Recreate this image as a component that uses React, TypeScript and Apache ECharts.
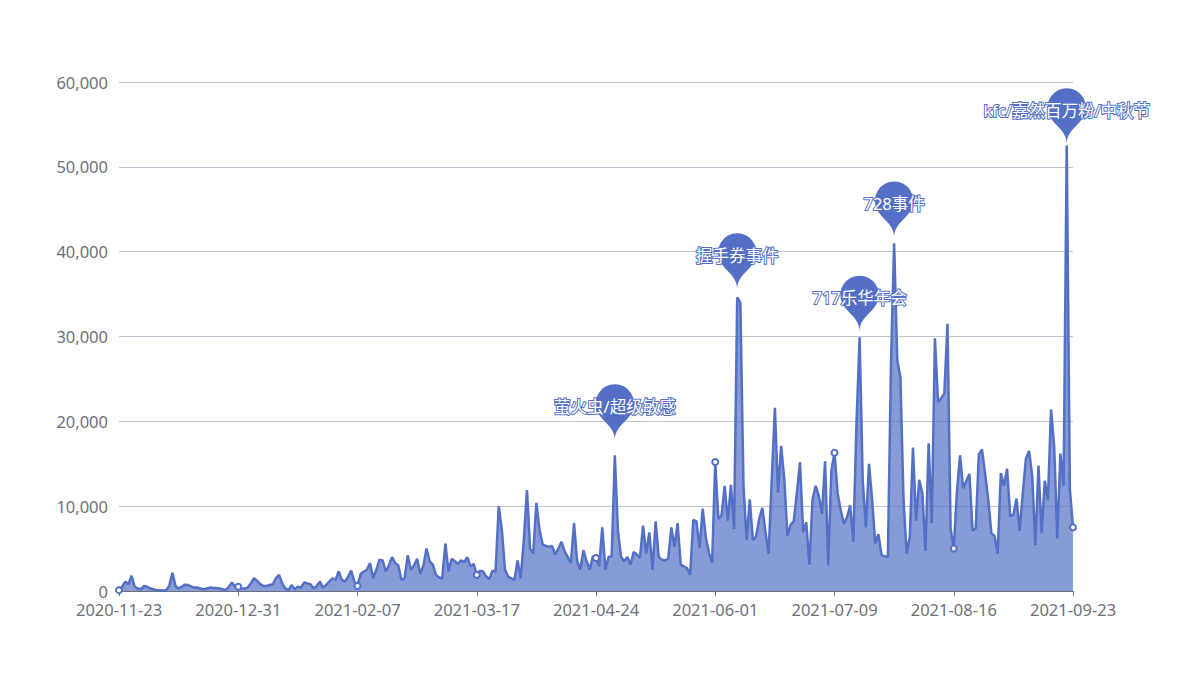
import React, { useEffect, useRef } from 'react';
import * as echarts from 'echarts';

// First day of the daily series (category axis runs one day per value)
const START_DATE = '2020-11-23';

// Daily values (2020-11-23 .. 2021-09-23)
const values: number[] = [
  100, 500, 1100, 800, 1800, 500, 300, 200, 600, 500,
  300, 200, 100, 80, 50, 100, 600, 2150, 600, 300,
  500, 750, 700, 550, 400, 400, 300, 200, 300, 400,
  350, 350, 300, 200, 100, 500, 1000, 500, 500, 300,
  300, 400, 900, 1500, 1200, 800, 600, 600, 700, 800,
  1500, 1900, 900, 300, 100, 700, 200, 500, 400, 1000,
  900, 800, 300, 600, 1100, 400, 700, 1100, 1500, 1300,
  2300, 1300, 1100, 1700, 2400, 1100, 600, 2000, 2300, 2500,
  3300, 1500, 2500, 3700, 3600, 2300, 3000, 4000, 3300, 3000,
  1300, 1500, 4200, 2500, 3000, 3800, 2000, 3000, 5000, 3500,
  3100, 1900, 1600, 1500, 5600, 2300, 3800, 3500, 3200, 3600,
  3400, 4000, 2900, 3200, 1900, 2400, 2300, 1700, 1400, 2400,
  2300, 10000, 7200, 2500, 1700, 1500, 1300, 3600, 1500, 6000,
  11900, 5000, 4400, 10400, 7200, 5500, 5300, 5200, 5300, 4300,
  5000, 5800, 4700, 4000, 3300, 8000, 3500, 2500, 4800, 3500,
  2500, 4100, 3900, 2900, 7500, 2500, 4000, 4100, 16000, 7000,
  4000, 3500, 4000, 3100, 4600, 4300, 3900, 7700, 4400, 6900,
  2500, 8200, 4000, 3700, 3600, 3800, 7500, 5200, 8000, 3100,
  2900, 2700, 1900, 8400, 8200, 5100, 9700, 6300, 4500, 3300,
  15200, 8500, 8900, 12400, 8300, 12500, 7300, 34600, 34000, 12400,
  6000, 10800, 6000, 6400, 8500, 9800, 7000, 4400, 13000, 21600,
  11600, 17100, 13200, 6500, 7800, 8200, 11500, 15200, 6900, 8100,
  3100, 10800, 12400, 11200, 9100, 15300, 3000, 14200, 16300, 11500,
  9500, 7900, 8700, 10100, 5800, 19700, 29900, 13000, 7500, 15000,
  10700, 5600, 6700, 4200, 4100, 4000, 26800, 41000, 27200, 25200,
  10700, 4400, 6400, 16900, 8300, 13100, 11500, 4700, 17400, 8000,
  29800, 22300, 22700, 23300, 31500, 7300, 5000, 11600, 16000, 12100,
  13000, 13800, 7100, 7400, 16100, 16700, 13800, 10800, 6800, 6500,
  4400, 13900, 12400, 14400, 8800, 9000, 10900, 7100, 11500, 15600,
  16500, 13600, 5400, 14800, 6800, 13000, 10700, 21400, 17100, 6200,
  16200, 12400, 52500, 12000, 7500,
];

// Annotated events (pins)
const markNames: string[] = ['萤火虫/超级敏感', '握手券事件', '717乐华年会', '728事件', 'kfc/嘉然百万粉/中秋节'];
const markDates: string[] = ['2021-04-30', '2021-06-08', '2021-07-17', '2021-07-28', '2021-09-21'];
const markValues: number[] = [17800, 35600, 30600, 41700, 52700];

// Value axis
const Y_MIN = 0;
const Y_MAX = 60000;
const Y_STEP = 10000;

function buildDates(start: string, n: number): string[] {
  const [y, m, d] = start.split('-').map(Number);
  const base = Date.UTC(y, m - 1, d);
  const out: string[] = [];
  for (let i = 0; i < n; i++) {
    const dt = new Date(base + i * 86400000);
    const mm = String(dt.getUTCMonth() + 1).padStart(2, '0');
    const dd = String(dt.getUTCDate()).padStart(2, '0');
    out.push(`${dt.getUTCFullYear()}-${mm}-${dd}`);
  }
  return out;
}

const FONT = "'Noto Sans', 'Noto Sans CJK SC', sans-serif";
const BLUE = '#5470c6';

export default function App() {
  const ref = useRef<HTMLDivElement | null>(null);

  useEffect(() => {
    if (!ref.current) return;
    const chart = echarts.init(ref.current, null, { renderer: 'svg' });
    const dates = buildDates(START_DATE, values.length);
    chart.setOption({
      animation: false,
      textStyle: { fontFamily: FONT },
      grid: { left: 119, right: 119, top: 82, bottom: 97 },
      xAxis: {
        type: 'category',
        boundaryGap: false,
        data: dates,
        axisLine: { lineStyle: { color: '#6E7079', width: 1 } },
        axisTick: { interval: 37, length: 5, lineStyle: { color: '#6E7079' } },
        axisLabel: { interval: 37, fontSize: 16.5, color: '#6E7079', margin: 10, fontFamily: FONT },
      },
      yAxis: {
        type: 'value',
        min: Y_MIN,
        max: Y_MAX,
        interval: Y_STEP,
        axisLabel: { fontSize: 16.5, color: '#6E7079', margin: 11, fontFamily: FONT },
        splitLine: { lineStyle: { color: '#c0c5d2' } },
      },
      series: [
        {
          type: 'line',
          data: values,
          symbol: 'emptyCircle',
          symbolSize: 6,
          lineStyle: { width: 2.5, color: BLUE },
          itemStyle: { color: BLUE, borderWidth: 2 },
          areaStyle: { color: BLUE, opacity: 0.7 },
          markPoint: {
            symbol: 'pin',
            symbolSize: 64,
            itemStyle: { color: BLUE },
            label: {
              show: true,
              formatter: '{b}',
              color: '#fff',
              fontSize: 16.5,
              fontFamily: FONT,
              textBorderColor: BLUE,
              textBorderWidth: 2,
            },
            data: markNames.map((n, i) => ({ name: n, coord: [markDates[i], markValues[i]] })),
          },
        },
      ],
    });
    return () => chart.dispose();
  }, []);

  return (
    <div
      ref={ref}
      style={{ position: 'absolute', left: 0, top: 0, width: 1192, height: 688 }}
    />
  );
}
